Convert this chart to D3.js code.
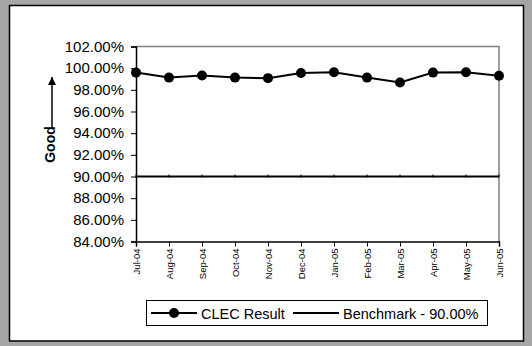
<!DOCTYPE html>
<html>
<head>
<meta charset="utf-8">
<script src="https://cdn.jsdelivr.net/npm/d3@7"></script>
<style>
  html, body { margin: 0; padding: 0; background: #a6a6a6; }
  svg { display: block; }
  text { font-family: "Liberation Sans", Arial, sans-serif; }
</style>
</head>
<body>
<svg id="chart" width="532" height="346"></svg>
<script>
const months = ["Jul-04","Aug-04","Sep-04","Oct-04","Nov-04","Dec-04","Jan-05","Feb-05","Mar-05","Apr-05","May-05","Jun-05"];
const clecResult = [99.59, 99.13, 99.32, 99.13, 99.08, 99.56, 99.62, 99.13, 98.67, 99.59, 99.62, 99.30];
const benchmark = [90, 90, 90, 90, 90, 90, 90, 90, 90, 90, 90, 90];
const yTicks = [84, 86, 88, 90, 92, 94, 96, 98, 100, 102];
const legendLabels = ["CLEC Result", "Benchmark - 90.00%"];
const axisLabel = "Good";

(function () {
const svg = d3.select("#chart");

svg.append("rect").attr("x", 0).attr("y", 0).attr("width", 532).attr("height", 346).attr("fill", "#a6a6a6");
svg.append("rect").attr("x", 9.5).attr("y", 5.5).attr("width", 514).attr("height", 335.5)
  .attr("fill", "#fff").attr("stroke", "#000").attr("stroke-width", 1.5);

const pL = 136, pR = 499, pT = 46.5, pB = 241.5;
const x = d3.scalePoint().domain(months).range([pL, pR]);
const y = d3.scaleLinear().domain([84, 102]).range([pB, pT]);

svg.append("path")
  .attr("d", `M${pL},${pT}H${pR}V${pB}`)
  .attr("fill", "none").attr("stroke", "#808080").attr("stroke-width", 1.5);

const yAxis = svg.append("g").attr("transform", `translate(${pL},0)`)
  .call(d3.axisLeft(y).tickValues(yTicks).tickSize(5).tickPadding(7).tickFormat(d => d.toFixed(2) + "%"));
yAxis.select(".domain").attr("stroke", "#000").attr("stroke-width", 1.5);
yAxis.selectAll("line").attr("stroke", "#000");
yAxis.selectAll("text").attr("font-size", "15px").attr("fill", "#000")
  .style("font-family", '"Liberation Sans", Arial, sans-serif');

const xAxis = svg.append("g").attr("transform", `translate(0,${pB})`)
  .call(d3.axisBottom(x).tickSize(5).tickPadding(0));
xAxis.select(".domain").attr("stroke", "#000").attr("stroke-width", 1.5);
xAxis.selectAll("line").attr("stroke", "#000");
xAxis.selectAll("text")
  .attr("font-size", "9.5px").attr("fill", "#000")
  .style("font-family", '"Liberation Sans", Arial, sans-serif')
  .attr("text-anchor", "end")
  .attr("dy", "0.35em")
  .attr("transform", "translate(0,7) rotate(-90)")
  .attr("y", 0).attr("x", 0);

svg.append("path")
  .datum(benchmark)
  .attr("d", d3.line().x((d, i) => x(months[i])).y(d => y(d)))
  .attr("fill", "none").attr("stroke", "#000").attr("stroke-width", 2);
svg.append("g").selectAll("line")
  .data(benchmark)
  .join("line")
  .attr("x1", (d, i) => x(months[i])).attr("x2", (d, i) => x(months[i]))
  .attr("y1", d => y(d) - 2).attr("y2", d => y(d) + 1)
  .attr("stroke", "#000").attr("stroke-width", 1);

svg.append("path")
  .datum(clecResult)
  .attr("d", d3.line().x((d, i) => x(months[i])).y(d => y(d)))
  .attr("fill", "none").attr("stroke", "#000").attr("stroke-width", 2);

svg.append("g").selectAll("circle")
  .data(clecResult)
  .join("circle")
  .attr("cx", (d, i) => x(months[i]))
  .attr("cy", d => y(d))
  .attr("r", 5)
  .attr("fill", "#000");

svg.append("defs").append("marker")
  .attr("id", "ah").attr("viewBox", "0 0 10 10").attr("refX", 10).attr("refY", 5)
  .attr("markerWidth", 8).attr("markerHeight", 8).attr("markerUnits", "userSpaceOnUse")
  .attr("orient", "auto")
  .append("path").attr("d", "M0,0L10,5L0,10Z").attr("fill", "#000");
svg.append("line").attr("x1", 52).attr("x2", 52).attr("y1", 128).attr("y2", 77)
  .attr("stroke", "#000").attr("stroke-width", 1.5).attr("marker-end", "url(#ah)");
svg.append("text")
  .attr("transform", "translate(55,144.5) rotate(-90)")
  .attr("text-anchor", "middle")
  .attr("font-size", "14px").attr("font-weight", "bold")
  .text(axisLabel);

const lg = svg.append("g");
lg.append("rect").attr("x", 146.5).attr("y", 300.5).attr("width", 341).attr("height", 25)
  .attr("fill", "#fff").attr("stroke", "#000").attr("stroke-width", 1);
lg.append("line").attr("x1", 151).attr("x2", 197).attr("y1", 313).attr("y2", 313)
  .attr("stroke", "#000").attr("stroke-width", 2);
lg.append("circle").attr("cx", 174).attr("cy", 313).attr("r", 5).attr("fill", "#000");
lg.append("text").attr("x", 201).attr("y", 318.5).attr("font-size", "14.5px").text(legendLabels[0]);
lg.append("line").attr("x1", 293).attr("x2", 339).attr("y1", 313).attr("y2", 313)
  .attr("stroke", "#000").attr("stroke-width", 2);
lg.append("text").attr("x", 343).attr("y", 318.5).attr("font-size", "14.5px").text(legendLabels[1]);
})();
</script>
</body>
</html>
